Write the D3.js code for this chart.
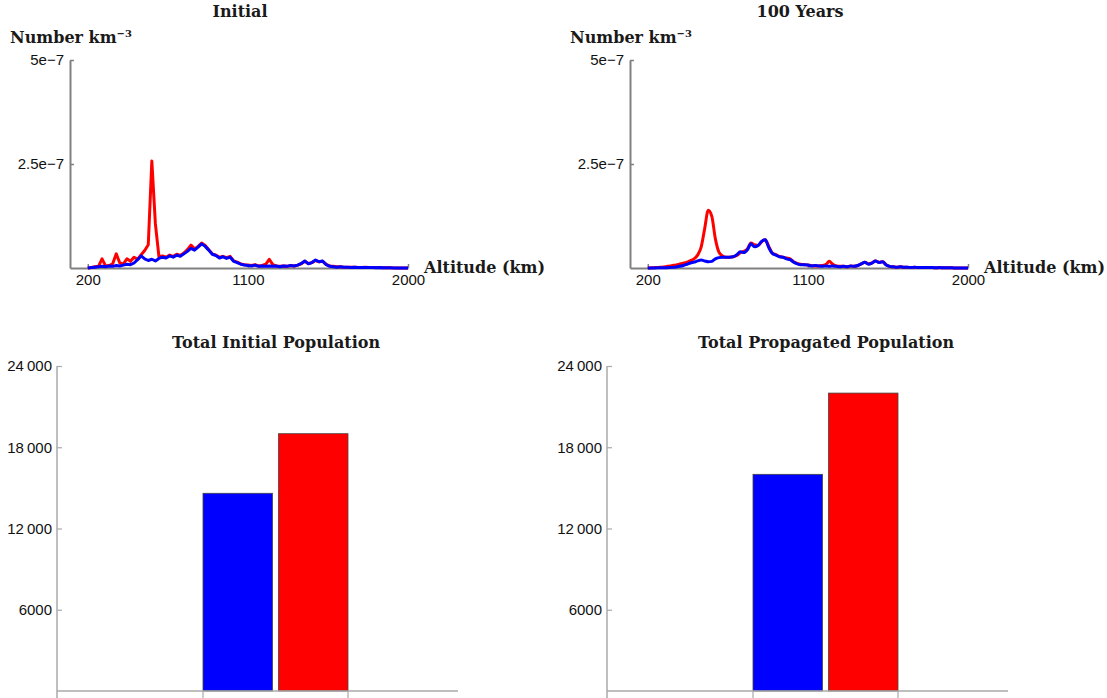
<!DOCTYPE html>
<html>
<head>
<meta charset="utf-8">
<script src="https://cdn.jsdelivr.net/npm/d3@7"></script>
<style>
    body { margin: 0; background: #fff; }
    .serif { font-family: "DejaVu Serif", serif; font-size: 16px; font-weight: bold; fill: #1a1a1a; }
    .tick text { font-family: "Liberation Sans", Arial, sans-serif; font-size: 15px; fill: #111; }
</style>
</head>
<body>
<svg id="chart" width="1107" height="698"></svg>
<script>

// DATA =======================================================================

// altitude grid shared by the density curves (km)
var ALTITUDES = d3.range(200, 2001, 20);
var UNIT = 1e-8;   // density values below are in units of 1e-8 per km^3

var initialRed = [
    0, 0.1, 0.3, 0.4, 2.2, 0.5, 0.6, 1.0, 3.4, 1.2,
    1.0, 2.2, 1.6, 2.6, 2.1, 3.2, 4.2, 5.6, 25.7, 10.6,
    2.7, 2.9, 2.6, 3.1, 2.8, 3.3, 3.0, 3.6, 4.4, 5.5,
    4.6, 5.2, 6.0, 5.4, 4.4, 3.4, 3.1, 2.6, 2.8, 2.5,
    2.8, 1.7, 1.4, 1.0, 0.8, 0.7, 0.6, 0.8, 0.5, 0.6,
    0.9, 2.1, 0.8, 0.5, 0.4, 0.5, 0.4, 0.6, 0.5, 0.7,
    1.0, 1.6, 1.1, 1.3, 1.8, 1.5, 1.6, 0.9, 0.5, 0.4,
    0.3, 0.3, 0.2, 0.2, 0.2, 0.2, 0.1, 0.1, 0.2, 0.1,
    0.1, 0.1, 0.1, 0.05, 0.05, 0.05, 0.03, 0.02, 0.02, 0.01,
    0
];
var initialBlue = [
    0, 0.1, 0.2, 0.3, 0.4, 0.3, 0.5, 0.4, 0.6, 0.5,
    0.7, 0.9, 0.8, 1.2, 2.0, 2.9, 2.2, 1.8, 2.1, 1.7,
    2.3, 2.6, 2.4, 2.9, 2.6, 3.1, 2.8, 3.4, 4.0, 4.7,
    4.3, 5.0, 5.8, 5.2, 4.3, 3.3, 3.0, 2.4, 2.7, 2.3,
    2.6, 1.6, 1.3, 0.9, 0.7, 0.6, 0.5, 0.7, 0.4, 0.5,
    0.4, 0.5, 0.4, 0.5, 0.3, 0.5, 0.4, 0.6, 0.5, 0.7,
    1.1, 1.7, 1.0, 1.3, 1.9, 1.5, 1.7, 0.8, 0.4, 0.3,
    0.2, 0.3, 0.2, 0.2, 0.1, 0.2, 0.1, 0.1, 0.1, 0.1,
    0.1, 0.05, 0.1, 0.05, 0.05, 0.05, 0.02, 0.02, 0.02, 0.01,
    0
];
var yearsRed = [
    0, 0.05, 0.1, 0.15, 0.2, 0.3, 0.45, 0.6, 0.75, 0.95,
    1.15, 1.4, 1.8, 2.2, 3.1, 5.0, 9.5, 13.9, 12.4, 7.0,
    3.8, 2.9, 2.6, 2.6, 2.7, 3.0, 3.7, 4.0, 4.6, 6.0,
    5.6, 5.4, 6.3, 6.8, 5.2, 3.6, 3.2, 2.8, 2.6, 2.4,
    2.2, 1.5, 1.1, 0.9, 0.8, 0.7, 0.6, 0.5, 0.5, 0.6,
    0.8, 1.6, 0.9, 0.5, 0.4, 0.4, 0.3, 0.5, 0.4, 0.6,
    1.0, 1.4, 1.0, 1.2, 1.7, 1.4, 1.5, 0.8, 0.4, 0.3,
    0.2, 0.3, 0.2, 0.2, 0.1, 0.2, 0.1, 0.1, 0.1, 0.1,
    0.1, 0.05, 0.1, 0.05, 0.05, 0.05, 0.02, 0.02, 0.02, 0.01,
    0
];
var yearsBlue = [
    0, 0, 0.02, 0.04, 0.06, 0.08, 0.1, 0.15, 0.25, 0.4,
    0.6, 0.9, 1.2, 1.4, 1.7, 1.9, 1.7, 1.5, 1.6, 2.2,
    2.5, 2.6, 2.6, 2.6, 2.7, 3.2, 3.9, 3.7, 4.4, 5.8,
    5.1, 5.4, 6.4, 6.8, 4.9, 3.5, 3.1, 2.7, 2.6, 2.2,
    2.0, 1.4, 1.0, 0.8, 0.8, 0.7, 0.5, 0.6, 0.5, 0.4,
    0.5, 0.4, 0.5, 0.4, 0.3, 0.4, 0.3, 0.5, 0.4, 0.6,
    1.0, 1.4, 0.9, 1.2, 1.7, 1.3, 1.5, 0.7, 0.4, 0.3,
    0.2, 0.3, 0.2, 0.2, 0.1, 0.2, 0.1, 0.1, 0.1, 0.1,
    0.1, 0.05, 0.1, 0.05, 0.05, 0.05, 0.02, 0.02, 0.02, 0.01,
    0
];

var altitudeTicks = [200, 1100, 2000];
var densityTicks = [2.5e-7, 5e-7];
var densityTickLabels = ['2.5e\u22127', '5e\u22127'];

var barGroups = ['blue', 'red'];
var initialTotals = [14600, 19000];
var propagatedTotals = [16000, 22000];
var totalTicks = [6000, 12000, 18000, 24000];


// CHART ======================================================================

var svg = d3.select('#chart');
var COLORS = {red: '#ff0000', blue: '#0000ff'};

function seriesPoints(values) {
    var n = Math.min(ALTITUDES.length, values.length);
    return d3.range(n).map(function(i) {
        return {alt: ALTITUDES[i], v: values[i] * UNIT};
    });
}

function densityPanel(left, title, red, blue, smooth) {
    var g = svg.append('g'),
        x = d3.scaleLinear().domain([100, 2000]).range([left, left + 338]),
        y = d3.scaleLinear().domain([0, 5e-7]).range([268, 60]);

    var line = d3.line()
        .x(function(d) { return x(d.alt); })
        .y(function(d) { return y(d.v); })
        .curve(smooth ? d3.curveMonotoneX : d3.curveLinear);

    var xAxis = g.append('g')
        .attr('transform', 'translate(0,268)')
        .call(d3.axisBottom(x).tickValues(altitudeTicks).tickSize(-4)
            .tickSizeOuter(0).tickPadding(6).tickFormat(d3.format('d')));

    var yAxis = g.append('g')
        .attr('transform', 'translate(' + left + ',0)')
        .call(d3.axisLeft(y).tickValues(densityTicks).tickSize(-4)
            .tickSizeOuter(0).tickPadding(6)
            .tickFormat(function(d, i) { return densityTickLabels[i]; }));

    [xAxis, yAxis].forEach(function(a) {
        a.select('.domain').attr('stroke', '#808080').attr('stroke-width', 2);
        a.selectAll('.tick line').attr('stroke', '#808080').attr('stroke-width', 1.5);
    });

    g.append('path')
        .datum(seriesPoints(red))
        .attr('fill', 'none')
        .attr('stroke', COLORS.red)
        .attr('stroke-width', 3)
        .attr('stroke-linejoin', 'round')
        .attr('d', line);

    g.append('path')
        .datum(seriesPoints(blue))
        .attr('fill', 'none')
        .attr('stroke', COLORS.blue)
        .attr('stroke-width', 3)
        .attr('stroke-linejoin', 'round')
        .attr('d', line);

    g.append('text')
        .attr('class', 'serif')
        .attr('x', left + 170)
        .attr('y', 17)
        .attr('text-anchor', 'middle')
        .text(title);

    var yl = g.append('text')
        .attr('class', 'serif')
        .attr('x', left - 60)
        .attr('y', 43);
    yl.append('tspan').text('Number km');
    yl.append('tspan')
        .attr('dy', -6)
        .style('font-size', '10px')
        .text('\u22123');

    g.append('text')
        .attr('class', 'serif')
        .attr('x', left + 354)
        .attr('y', 273)
        .text('Altitude (km)');
}

function totalsPanel(left, title, totals) {
    var g = svg.append('g'),
        y = d3.scaleLinear().domain([0, 24000]).range([691, 366]),
        xb = d3.scaleBand().domain(barGroups).range([left + 146, left + 291])
            .paddingInner(0.08);

    g.selectAll('rect')
        .data(totals)
        .enter().append('rect')
            .attr('x', function(d, i) { return xb(barGroups[i]); })
            .attr('y', function(d) { return y(d); })
            .attr('width', xb.bandwidth())
            .attr('height', function(d) { return y(0) - y(d); })
            .attr('fill', function(d, i) { return COLORS[barGroups[i]]; })
            .attr('stroke', '#444')
            .attr('stroke-width', 0.8);

    var yAxis = g.append('g')
        .attr('transform', 'translate(' + left + ',0)')
        .call(d3.axisLeft(y).tickValues(totalTicks).tickSize(-5)
            .tickSizeOuter(0).tickPadding(5)
            .tickFormat(function(d) {
                return d >= 10000 ? d3.format(',')(d).replace(',', '\u202f') : d;
            }));
    yAxis.select('.domain').remove();
    yAxis.selectAll('.tick line').attr('stroke', '#aaa').attr('stroke-width', 1.2);

    // axis lines
    g.append('line')
        .attr('x1', left).attr('x2', left)
        .attr('y1', y(24000)).attr('y2', 698)
        .attr('stroke', '#aaa').attr('stroke-width', 1.5);
    g.append('line')
        .attr('x1', left).attr('x2', left + 401)
        .attr('y1', y(0)).attr('y2', y(0))
        .attr('stroke', '#aaa').attr('stroke-width', 1.5);

    // group edge ticks
    var edges = xb.range();
    g.selectAll('.edge')
        .data(edges)
        .enter().append('line')
            .attr('class', 'edge')
            .attr('x1', function(d) { return d; })
            .attr('x2', function(d) { return d; })
            .attr('y1', y(0)).attr('y2', 698)
            .attr('stroke', '#aaa').attr('stroke-width', 1.2);

    g.append('text')
        .attr('class', 'serif')
        .attr('x', left + 219)
        .attr('y', 348)
        .attr('text-anchor', 'middle')
        .text(title);
}

densityPanel(70, 'Initial', initialRed, initialBlue, false);
densityPanel(630, '100 Years', yearsRed, yearsBlue, true);
totalsPanel(57, 'Total Initial Population', initialTotals);
totalsPanel(607, 'Total Propagated Population', propagatedTotals);

</script>
</body>
</html>
